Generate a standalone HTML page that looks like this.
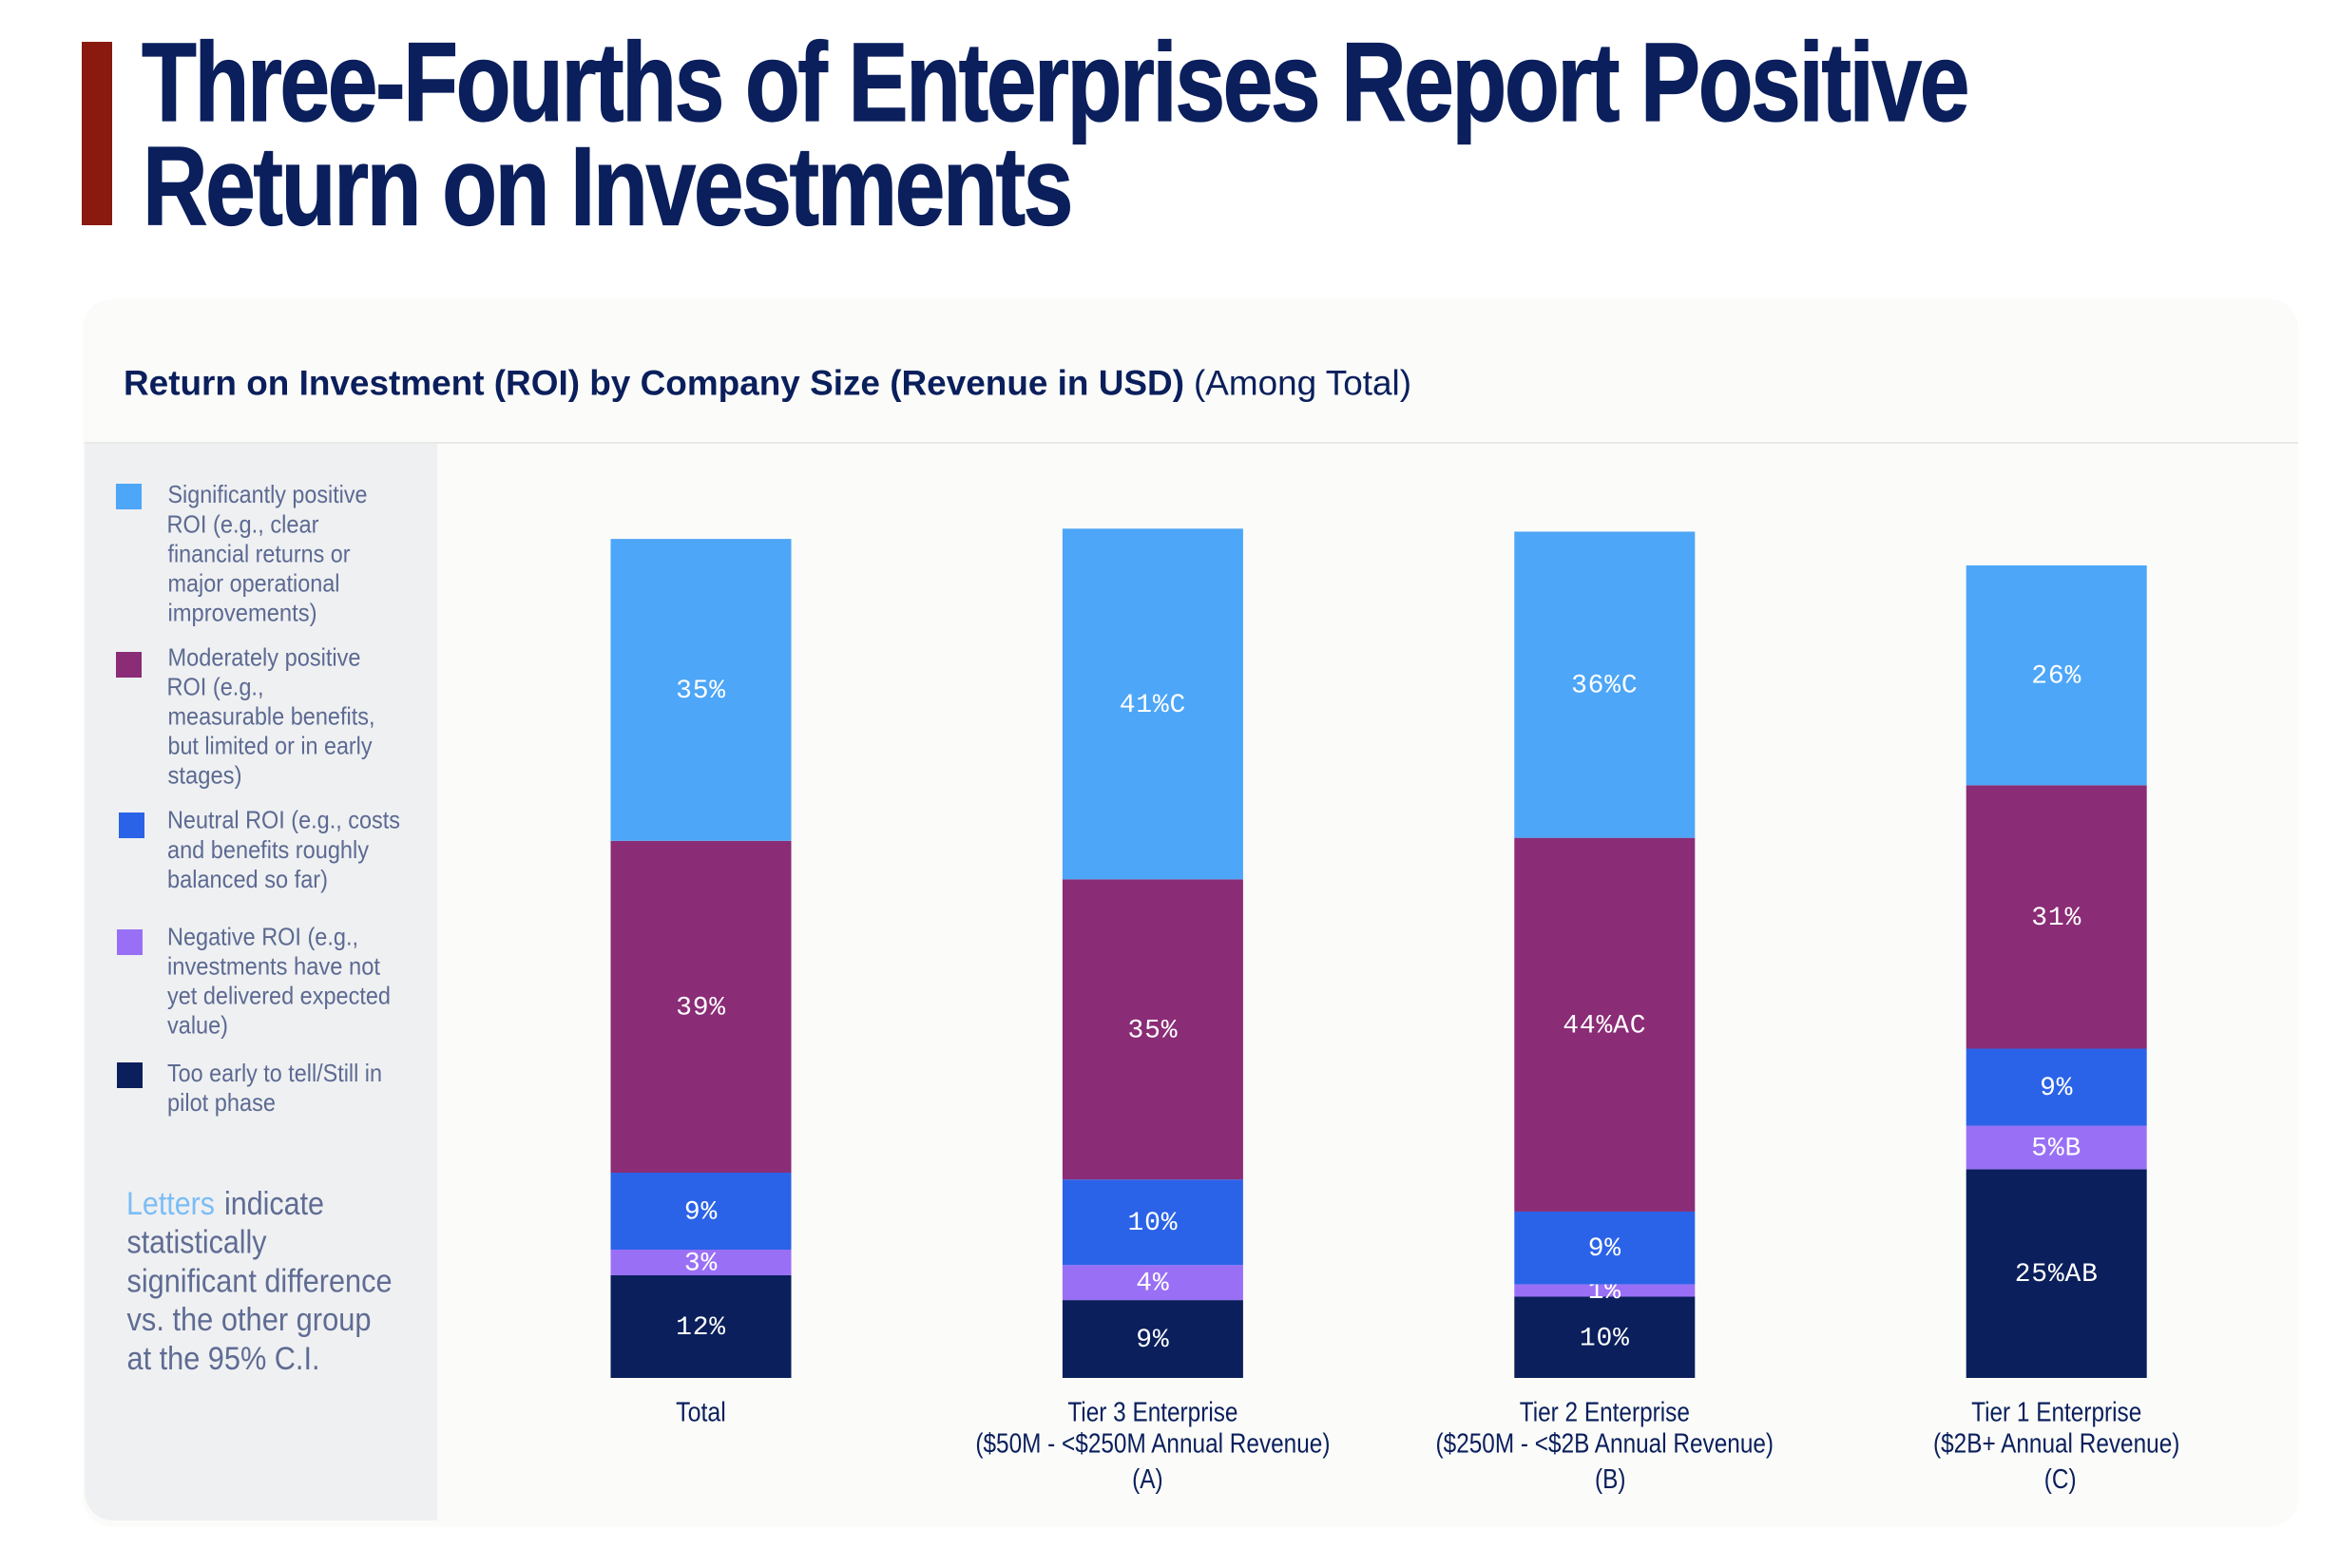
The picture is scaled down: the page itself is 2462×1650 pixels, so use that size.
<!DOCTYPE html>
<html lang="en">
<head>
<meta charset="utf-8">
<title>Three-Fourths of Enterprises Report Positive Return on Investments</title>
<style>
  html,body{margin:0;padding:0;background:#ffffff;}
  body{width:2462px;height:1650px;overflow:hidden;}
  svg{display:block;}
  text{font-family:"Liberation Sans",Arial,sans-serif;}
  .title{font-size:118px;font-weight:700;fill:#0a1f5c;stroke:#0a1f5c;stroke-width:1.2px;letter-spacing:-3px;}
  .sub-b{font-size:37px;font-weight:700;fill:#0a1f5c;}
  .sub-r{font-size:37px;fill:#0a1f5c;}
  .leg{font-size:26px;fill:#5c6a92;}
  .note{font-size:34px;fill:#5f6c93;}
</style>
</head>
<body>
<svg id="chart" xmlns="http://www.w3.org/2000/svg" width="2462" height="1650" viewBox="0 0 2462 1650">
  <rect x="86" y="44" width="32" height="193" fill="#8a1a10"/>
  <text class="title" x="149" y="127" textLength="1921" lengthAdjust="spacingAndGlyphs">Three-Fourths of Enterprises Report Positive</text>
  <text class="title" x="150" y="236.5" textLength="977" lengthAdjust="spacingAndGlyphs">Return on Investments</text>

  <rect x="87" y="315" width="2331" height="1291.5" rx="30" ry="30" fill="#fbfbf9"/>
  <text class="sub-b" x="130" y="415.5" textLength="1116" lengthAdjust="spacingAndGlyphs">Return on Investment (ROI) by Company Size (Revenue in USD)</text>
  <text class="sub-r" x="1256" y="415.5" textLength="229" lengthAdjust="spacingAndGlyphs">(Among Total)</text>
  <rect x="89" y="465" width="2329" height="2" fill="#e9e9e7"/>

  <path d="M89 467H460V1600H119A30 30 0 0 1 89 1570Z" fill="#eff0f2"/>

  <g>
    <rect x="122" y="509" width="27" height="27" fill="#4da6f7"/>
    <g>
      <text class="leg" x="176.5" y="529" textLength="210" lengthAdjust="spacingAndGlyphs">Significantly positive</text>
      <text class="leg" x="175.5" y="560.3" textLength="160" lengthAdjust="spacingAndGlyphs">ROI (e.g., clear</text>
      <text class="leg" x="176.5" y="591.3" textLength="192" lengthAdjust="spacingAndGlyphs">financial returns or</text>
      <text class="leg" x="176.5" y="622.5" textLength="181" lengthAdjust="spacingAndGlyphs">major operational</text>
      <text class="leg" x="176.5" y="653.5" textLength="157" lengthAdjust="spacingAndGlyphs">improvements)</text>
    </g>
    <rect x="122" y="686" width="27" height="27" fill="#8a2c76"/>
    <g>
      <text class="leg" x="176.5" y="700.6" textLength="203" lengthAdjust="spacingAndGlyphs">Moderately positive</text>
      <text class="leg" x="175.5" y="731.4" textLength="102" lengthAdjust="spacingAndGlyphs">ROI (e.g.,</text>
      <text class="leg" x="176.5" y="762.3" textLength="218" lengthAdjust="spacingAndGlyphs">measurable benefits,</text>
      <text class="leg" x="176.5" y="793.5" textLength="215" lengthAdjust="spacingAndGlyphs">but limited or in early</text>
      <text class="leg" x="176.5" y="824.3" textLength="78" lengthAdjust="spacingAndGlyphs">stages)</text>
    </g>
    <rect x="125" y="855" width="27" height="27" fill="#2b63e8"/>
    <g>
      <text class="leg" x="176" y="871.6" textLength="245" lengthAdjust="spacingAndGlyphs">Neutral ROI (e.g., costs</text>
      <text class="leg" x="176" y="902.9" textLength="212" lengthAdjust="spacingAndGlyphs">and benefits roughly</text>
      <text class="leg" x="176" y="934" textLength="169" lengthAdjust="spacingAndGlyphs">balanced so far)</text>
    </g>
    <rect x="123" y="978" width="27" height="27" fill="#9970f5"/>
    <g>
      <text class="leg" x="176" y="994.4" textLength="201" lengthAdjust="spacingAndGlyphs">Negative ROI (e.g.,</text>
      <text class="leg" x="176" y="1025.6" textLength="224" lengthAdjust="spacingAndGlyphs">investments have not</text>
      <text class="leg" x="176" y="1056.5" textLength="235" lengthAdjust="spacingAndGlyphs">yet delivered expected</text>
      <text class="leg" x="176" y="1087.7" textLength="64" lengthAdjust="spacingAndGlyphs">value)</text>
    </g>
    <rect x="123" y="1118" width="27" height="27" fill="#0a1f5c"/>
    <g>
      <text class="leg" x="176" y="1137.9" textLength="226" lengthAdjust="spacingAndGlyphs">Too early to tell/Still in</text>
      <text class="leg" x="176" y="1169" textLength="114" lengthAdjust="spacingAndGlyphs">pilot phase</text>
    </g>
  </g>

  <g>
    <text class="note" x="133" y="1278" textLength="93" lengthAdjust="spacingAndGlyphs" style="fill:#7cbdf6">Letters</text>
    <text class="note" x="236" y="1278" textLength="105" lengthAdjust="spacingAndGlyphs">indicate</text>
    <text class="note" x="133.5" y="1318.5" textLength="147" lengthAdjust="spacingAndGlyphs">statistically</text>
    <text class="note" x="133.5" y="1359.6" textLength="279" lengthAdjust="spacingAndGlyphs">significant difference</text>
    <text class="note" x="133.5" y="1400" textLength="257" lengthAdjust="spacingAndGlyphs">vs. the other group</text>
    <text class="note" x="133.5" y="1441" textLength="203" lengthAdjust="spacingAndGlyphs">at the 95% C.I.</text>
  </g>

  <g id="plot"></g>
</svg>

<script>
// Data: stacked top-to-bottom in the order of the legend.
const categories = ["Total", "Tier 3 Enterprise", "Tier 2 Enterprise", "Tier 1 Enterprise"];
const categoryDetail = ["", "($50M - <$250M Annual Revenue)", "($250M - <$2B Annual Revenue)", "($2B+ Annual Revenue)"];
const categoryLetter = ["", "(A)", "(B)", "(C)"];
const seriesKeys = ["significantly-positive", "moderately-positive", "neutral", "negative", "too-early"];
const significantlyPositive = [35.3, 41.0, 35.8, 25.7];
const moderatelyPositive = [38.8, 35.1, 43.7, 30.8];
const neutral = [9.0, 10.0, 8.5, 9.0];
const negative = [3.0, 4.1, 1.45, 5.1];
const tooEarly = [12.0, 9.1, 9.5, 24.4];
const significantlyPositiveLabels = ["35%", "41%C", "36%C", "26%"];
const moderatelyPositiveLabels = ["39%", "35%", "44%AC", "31%"];
const neutralLabels = ["9%", "10%", "9%", "9%"];
const negativeLabels = ["3%", "4%", "1%", "5%B"];
const tooEarlyLabels = ["12%", "9%", "10%", "25%AB"];

// Drawing
const seriesValues = [significantlyPositive, moderatelyPositive, neutral, negative, tooEarly];
const seriesLabels = [significantlyPositiveLabels, moderatelyPositiveLabels, neutralLabels, negativeLabels, tooEarlyLabels];
const seriesColors = ["#4da6f7", "#8a2c76", "#2b63e8", "#9970f5", "#0a1f5c"];
const NS = "http://www.w3.org/2000/svg";
const plot = document.getElementById("plot");
const BASE_Y = 1450, PX_PER_UNIT = 9.0, FIRST_CENTER = 737.5, BAND_STEP = 475.4, BAR_WIDTH = 190;
function xCenter(i){ return FIRST_CENTER + i * BAND_STEP; }
function yScale(v){ return BASE_Y - v * PX_PER_UNIT; }
function letterNudge(s){ return s === "(A)" ? -5.5 : s === "(B)" ? 6 : s === "(C)" ? 4 : 0; }

categories.forEach(function(cat, i){
  let cum = 0;
  for (let s = seriesValues.length - 1; s >= 0; s--) {
    const v = seriesValues[s][i];
    const yBottom = yScale(cum);
    const yTop = yScale(cum + v);
    cum += v;
    const r = document.createElementNS(NS, "rect");
    r.setAttribute("x", xCenter(i) - BAR_WIDTH / 2);
    r.setAttribute("y", yTop);
    r.setAttribute("width", BAR_WIDTH);
    r.setAttribute("height", yBottom - yTop);
    r.setAttribute("fill", seriesColors[s]);
    
    
    plot.appendChild(r);
    const t = document.createElementNS(NS, "text");
    t.setAttribute("x", xCenter(i));
    t.setAttribute("y", (yTop + yBottom) / 2 + 8);
    t.setAttribute("text-anchor", "middle");
    t.setAttribute("fill", "#ffffff");
    t.setAttribute("style", 'font-family:"Liberation Mono",monospace;font-size:28px;letter-spacing:0.8px;');
    
    
    t.textContent = seriesLabels[s][i];
    plot.appendChild(t);
  }
  const lines = [
    {text: cat, y: 1495.6, dx: 0, factor: cat === "Total" ? 0.86 : 0.84},
    {text: categoryDetail[i], y: 1528.6, dx: 0, factor: 0.84},
    {text: categoryLetter[i], y: 1566, dx: letterNudge(categoryLetter[i]), factor: 0.84}
  ];
  lines.forEach(function(line){
    if (!line.text) return;
    const a = document.createElementNS(NS, "text");
    a.setAttribute("x", xCenter(i) + line.dx);
    a.setAttribute("y", line.y);
    a.setAttribute("text-anchor", "middle");
    a.setAttribute("fill", "#0a1f5c");
    a.setAttribute("style", "font-size:29px;");
    
    
    a.textContent = line.text;
    plot.appendChild(a);
    const natural = a.getComputedTextLength();
    a.setAttribute("textLength", natural * line.factor);
    a.setAttribute("lengthAdjust", "spacingAndGlyphs");
  });
});
</script>
</body>
</html>
